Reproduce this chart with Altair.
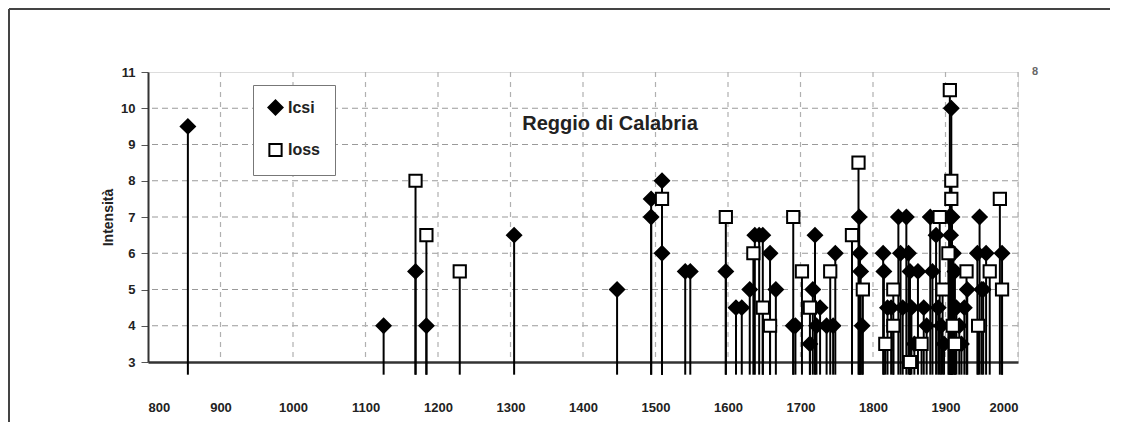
import altair as alt
import pandas as pd

# Icsi (filled diamonds)
csi_years = [855, 1125, 1169, 1184, 1305, 1447, 1494, 1494, 1509, 1509, 1541, 1548,
             1597, 1611, 1619, 1630, 1637, 1643, 1648, 1658, 1666, 1690, 1693, 1713,
             1717, 1720, 1722, 1727, 1736, 1745, 1748, 1781, 1782, 1783, 1785, 1814,
             1815, 1820, 1825, 1835, 1838, 1841, 1846, 1849, 1851, 1853, 1857, 1862,
             1870, 1874, 1879, 1882, 1887, 1890, 1894, 1898, 1905, 1907, 1908, 1909,
             1911, 1913, 1915, 1919, 1922, 1926, 1930, 1944, 1947, 1950, 1952, 1956, 1978]
csi_vals = [9.5, 4, 5.5, 4, 6.5, 5, 7.5, 7, 8, 6, 5.5, 5.5,
            5.5, 4.5, 4.5, 5, 6.5, 6.5, 6.5, 6, 5, 4, 4, 3.5,
            5, 6.5, 4, 4.5, 4, 4, 6, 7, 6, 5.5, 4, 6,
            5.5, 4.5, 4.5, 7, 6, 4.5, 7, 6, 5.5, 4.5, 3.5, 5.5,
            4.5, 4, 7, 5.5, 6.5, 4.5, 4, 3.5, 7, 6.5, 10, 7,
            6, 5.5, 4.5, 4, 3.5, 4.5, 5, 6, 7, 5, 5, 6, 6]

# Ioss (open squares)
oss_years = [1169, 1184, 1230, 1509, 1597, 1635, 1648, 1658, 1690, 1702, 1713, 1741,
             1771, 1780, 1786, 1817, 1828, 1828, 1851, 1867, 1892, 1896, 1904, 1906,
             1908, 1908, 1910, 1913, 1929, 1945, 1961, 1975, 1978]
oss_vals = [8, 6.5, 5.5, 7.5, 7, 6, 4.5, 4, 7, 5.5, 4.5, 5.5,
            6.5, 8.5, 5, 3.5, 5, 4, 3, 3.5, 7, 5, 6, 10.5,
            8, 7.5, 4, 3.5, 5.5, 4, 5.5, 7.5, 5]

series_names = ["Icsi", "Ioss"]
x_ticks = list(range(800, 2001, 100))
y_ticks = list(range(3, 12))
baseline = 2.65

df = pd.concat([
    pd.DataFrame({"year": csi_years, "v": csi_vals, "serie": series_names[0]}),
    pd.DataFrame({"year": oss_years, "v": oss_vals, "serie": series_names[1]}),
], ignore_index=True)

FONT = "Liberation Sans"

xscale = alt.Scale(domain=[800, 2000], nice=False, zero=False)
yscale = alt.Scale(domain=[3, 11], nice=False, zero=False)

xaxis = alt.Axis(values=x_ticks, title=None, format="d", grid=False,
                 labelPadding=39, tickSize=0, domainColor="#333",
                 domainWidth=2.5, labelFont=FONT, labelFontSize=13,
                 labelFontWeight="bold", labelColor="#222", labelOverlap=False)
yaxis = alt.Axis(values=y_ticks, title="Intensità", grid=False, format="d",
                 tickSize=7, tickColor="#555", domainColor="#333",
                 domainWidth=2, labelPadding=6, labelFont=FONT,
                 labelFontSize=13, labelFontWeight="bold", labelColor="#222",
                 labelOverlap=False,
                 titleFont=FONT, titleFontSize=14, titleFontWeight="bold",
                 titleColor="#222", titlePadding=5)

base = alt.Chart(df)

grid_h = alt.Chart(pd.DataFrame({"t": y_ticks[1:-1]})).mark_rule(
    color="#9a9a9a", strokeDash=[6, 4], strokeWidth=1.2
).encode(y=alt.Y("t:Q", scale=yscale, axis=yaxis))

grid_v = alt.Chart(pd.DataFrame({"t": x_ticks[1:]})).mark_rule(
    color="#b0b0b0", strokeDash=[5, 5], strokeWidth=1.2
).encode(x=alt.X("t:Q", scale=xscale, axis=xaxis))

stems = base.mark_rule(color="black", strokeWidth=2).encode(
    x=alt.X("year:Q", scale=xscale, axis=xaxis),
    y=alt.Y("v:Q", scale=yscale, axis=yaxis),
    y2=alt.datum(baseline),
)

points = base.mark_point(filled=True, stroke="black", strokeWidth=2, opacity=1).encode(
    x=alt.X("year:Q", scale=xscale, axis=xaxis),
    y=alt.Y("v:Q", scale=yscale, axis=yaxis),
    shape=alt.Shape("serie:N", scale=alt.Scale(domain=series_names, range=["diamond", "square"]),
                    legend=alt.Legend(title=None, orient="none", legendX=105, legendY=13,
                                      strokeColor="#777", padding=14, rowPadding=20,
                                      labelFont=FONT, labelFontSize=16, labelFontWeight="bold",
                                      labelColor="#222", symbolStrokeWidth=2,
                                      symbolStrokeColor="black", fillColor="white")),
    fill=alt.Fill("serie:N", scale=alt.Scale(domain=series_names, range=["black", "white"]),
                  legend=alt.Legend(title=None, orient="none", legendX=105, legendY=13)),
    size=alt.Size("serie:N", scale=alt.Scale(domain=series_names, range=[200, 150]),
                  legend=alt.Legend(title=None, orient="none", legendX=105, legendY=13)),
)

title = alt.Chart(pd.DataFrame({"t": ["Reggio di Calabria"]})).mark_text(
    font=FONT, fontSize=20, fontWeight="bold", color="#222", align="center", baseline="middle"
).encode(text="t:N", x=alt.value(462), y=alt.value(52))

mark8 = alt.Chart(pd.DataFrame({"t": ["8"]})).mark_text(
    font=FONT, fontSize=11, fontWeight="bold", color="#666", align="center", baseline="middle"
).encode(text="t:N", x=alt.value(887), y=alt.value(0))

frame_top = alt.Chart(pd.DataFrame({"a": [0]})).mark_rule(color="#444", strokeWidth=2).encode(
    x=alt.value(-139), x2=alt.value(962), y=alt.value(-63), y2=alt.value(-63))
frame_left = alt.Chart(pd.DataFrame({"a": [0]})).mark_rule(color="#444", strokeWidth=2).encode(
    x=alt.value(-139), x2=alt.value(-139), y=alt.value(-63), y2=alt.value(355))

chart = alt.layer(frame_top, frame_left, grid_h, grid_v, stems, points, title, mark8).properties(
    width=870, height=290,
    autosize=alt.AutoSizeParams(type="none"),
    padding={"left": 140, "top": 64, "right": 92, "bottom": 60},
).configure_view(stroke="#aaaaaa", strokeWidth=2).configure(background="white")

chart.save("out.html", embed_options={"renderer": "svg", "actions": False})
